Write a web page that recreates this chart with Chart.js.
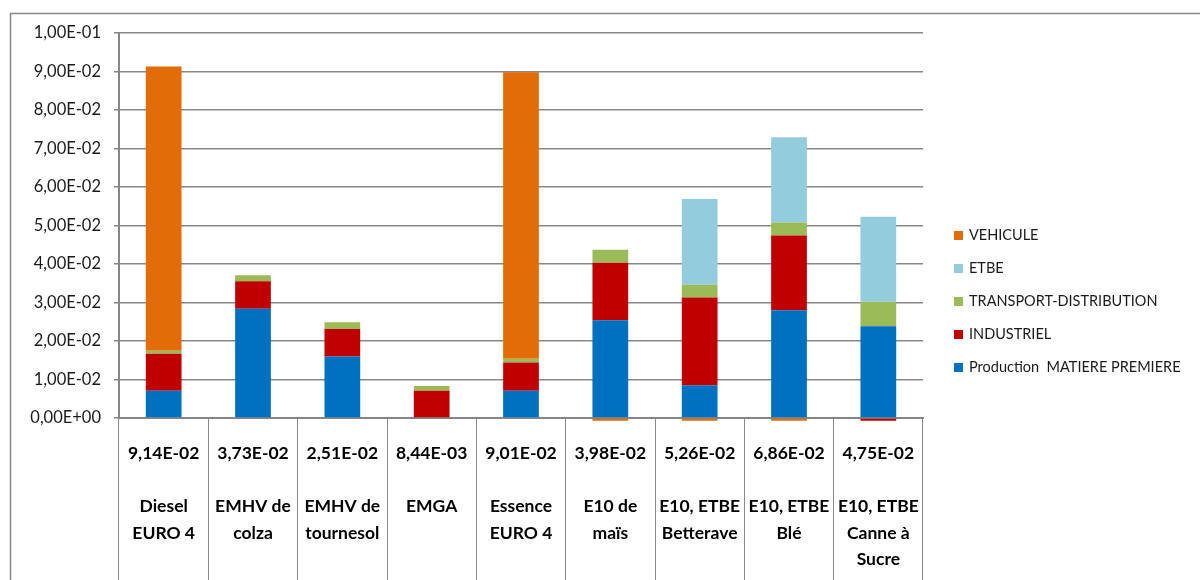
<!DOCTYPE html>
<html>
<head>
<meta charset="utf-8">
<script src="https://cdn.jsdelivr.net/npm/chart.js@4.4.0/dist/chart.umd.min.js"></script>
<style>
  html, body { margin: 0; padding: 0; background: #fff; }
  #wrap { position: relative; width: 1200px; height: 580px; }
</style>
</head>
<body>
<div id="wrap"><canvas id="myChart" width="1200" height="580"></canvas></div>
<script>
// categories (one entry per column, split into lines)
var categories = [
    ["Diesel", "EURO 4"],
    ["EMHV de", "colza"],
    ["EMHV de", "tournesol"],
    ["EMGA"],
    ["Essence", "EURO 4"],
    ["E10 de", "maïs"],
    ["E10, ETBE", "Betterave"],
    ["E10, ETBE", "Blé"],
    ["E10, ETBE", "Canne à", "Sucre"]
];
var totals = ["9,14E-02", "3,73E-02", "2,51E-02", "8,44E-03", "9,01E-02",
              "3,98E-02", "5,26E-02", "6,86E-02", "4,75E-02"];

// series values
var matiere    = [0.0071, 0.0284, 0.0160, 0,      0.0071, 0.0254, 0.0085, 0.0280, 0.0238];
var industriel = [0.0096, 0.0071, 0.0071, 0.0071, 0.0073, 0.0149, 0.0228, 0.0194, -0.0007];
var transport  = [0.0008, 0.0016, 0.0018, 0.0012, 0.0010, 0.0034, 0.0033, 0.0034, 0.0064];
var etbe       = [0,      0,      0,      0,      0,      0,      0.0223, 0.0221, 0.0221];
var vehicule   = [0.0738, 0,      0,      0,      0.0744, -0.0007, -0.0007, -0.0007, 0];

var yTicks = [0, 0.01, 0.02, 0.03, 0.04, 0.05, 0.06, 0.07, 0.08, 0.09, 0.1];

function sci(v) {
    var s = Number(v).toExponential(2).split("e");
    var e = parseInt(s[1], 10);
    var es = (e < 0 ? "-" : "+") + (Math.abs(e) < 10 ? "0" : "") + Math.abs(e);
    return s[0].replace(".", ",") + "E" + es;
}

var labels = [];
for (var i = 0; i < categories.length; i++) {
    labels[i] = [totals[i], ""].concat(categories[i]);
}

var dts = [
    { label: "Production  MATIERE PREMIERE", backgroundColor: "#0070C0", data: matiere },
    { label: "INDUSTRIEL", backgroundColor: "#C00000", data: industriel },
    { label: "TRANSPORT-DISTRIBUTION", backgroundColor: "#9BBB59", data: transport },
    { label: "ETBE", backgroundColor: "#93CDDD", data: etbe },
    { label: "VEHICULE", backgroundColor: "#E36C09", data: vehicule }
];
for (var i = 0; i < dts.length; i++) {
    dts[i].barPercentage = 0.4;
    dts[i].categoryPercentage = 1;
    dts[i].clip = false;
    dts[i].borderWidth = 0;
}

var frame = {
    id: "frame",
    beforeDraw: function (chart) {
        var c = chart.ctx;
        c.save();
        c.strokeStyle = "#868686";
        c.lineWidth = 1.5;
        c.strokeRect(10.5, 13.5, 1400, 800);
        c.restore();
    },
    afterDraw: function (chart) {
        var c = chart.ctx;
        c.save();
        c.font = "14.5px Lato";
        c.textBaseline = "middle";
        var ys = [235, 268, 301, 334, 367];
        for (var k = 0; k < dts.length; k++) {
            var ds = dts[dts.length - 1 - k];
            c.fillStyle = ds.backgroundColor;
            c.fillRect(954, ys[k] - 4, 9, 9);
            c.fillStyle = "#1a1a1a";
            c.fillText(ds.label, 969, ys[k] + 0.5);
        }
        c.restore();
    }
};

var ctx = document.getElementById("myChart").getContext("2d");
var mychart = new Chart(ctx, {
    type: "bar",
    data: { labels: labels, datasets: dts },
    options: {
        responsive: false,
        animation: false,
        layout: { padding: { left: 0, top: 33, right: 277, bottom: 0 } },
        plugins: { legend: { display: false }, tooltip: { enabled: false } },
        scales: {
            x: {
                stacked: true,
                afterFit: function (s) { s.height = 162; },
                grid: { offset: true, drawOnChartArea: false, drawTicks: true, tickLength: 162,
                        color: "#8a8a8a", lineWidth: 1 },
                border: { display: true, color: "#868686", width: 2 },
                ticks: { color: "#000", padding: -140, autoSkip: false, maxRotation: 0,
                         font: { family: "Lato", size: 17.5, weight: "bold", lineHeight: 1.52 } }
            },
            y: {
                stacked: true,
                min: 0, max: 0.1,
                afterFit: function (s) { s.width = 119; },
                afterBuildTicks: function (s) { s.ticks = yTicks.map(function (v) { return { value: v }; }); },
                grid: { color: "#878787", lineWidth: 1.5, tickLength: 5 },
                border: { display: true, color: "#868686", width: 2 },
                ticks: { color: "#1a1a1a", padding: 13, callback: function (v) { return sci(v); },
                         font: { family: "Lato", size: 16.5 } }
            }
        }
    },
    plugins: [frame]
});
</script>
</body>
</html>
